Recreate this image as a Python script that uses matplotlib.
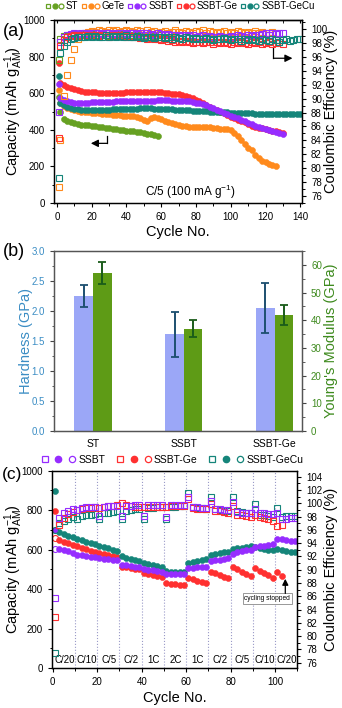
import numpy as np
import matplotlib.pyplot as plt
from matplotlib.lines import Line2D
from matplotlib.legend_handler import HandlerTuple
from matplotlib.ticker import MultipleLocator

plt.rcParams['font.family'] = ['Liberation Sans', 'DejaVu Sans']
plt.rcParams['mathtext.fontset'] = 'custom'
plt.rcParams['mathtext.rm'] = 'Liberation Sans'
plt.rcParams['mathtext.it'] = 'Liberation Sans:italic'
plt.rcParams['font.size'] = 7
plt.rcParams['axes.linewidth'] = 0.9

# cores das amostras
C_ST = '#66a122'
C_GETE = '#ff8a1c'
C_SSBT = '#962cff'
C_GE = '#ff3030'
C_CU = '#15857a'

# ---------------- (a) ciclagem a C/5: ciclo 1 e depois de 2 em 2 ciclos
st_cap = [580, 500, 458, 446, 440, 436, 432, 428, 426, 424, 422,
          420, 418, 415, 412, 408, 405, 402, 400, 398, 396,
          394, 392, 389, 386, 382, 379, 376, 371, 366]
st_ce = [95.5, 98.6, 99.0, 99.2, 99.1, 99.3, 99.2, 99.3, 99.1, 99.2, 99.3,
         99.2, 99.1, 99.3, 99.2, 99.0, 99.2, 99.1, 99.3, 99.2, 99.1,
         99.2, 99.0, 99.1, 99.2, 99.0, 99.1, 99.2, 99.0, 99.1]

gete_cap = [620, 548, 530, 520, 512, 507, 503, 500, 498, 496, 494,
            492, 490, 488, 486, 484, 482, 480, 479, 477, 476,
            475, 474, 470, 464, 455, 450, 462, 470, 465, 458,
            450, 444, 438, 432, 427, 423, 420, 418, 417, 416,
            415, 416, 418, 416, 412, 409, 407, 407, 406, 400,
            385, 365, 342, 320, 303, 288, 265, 245, 232, 222,
            214, 207, 200]
gete_ce = [77.3, 84.0, 90.4, 93.4, 95.6, 97.2, 98.6, 99.2, 99.5, 99.6, 99.7,
           99.6, 99.8, 99.7, 99.6, 99.8, 99.7, 99.9, 99.6, 99.7, 99.8,
           99.7, 99.6, 99.8, 99.7, 99.5, 99.8, 99.6, 99.7, 99.5, 99.6,
           99.7, 99.5, 99.6, 99.8, 99.6, 99.5, 99.7, 99.6, 99.5, 99.7,
           99.6, 99.8, 99.5, 99.7, 99.6, 99.4, 99.6, 99.7, 99.5, 99.6,
           99.5, 99.7, 99.6, 99.4, 99.6, 99.5, 99.7, 99.4, 99.6, 99.5,
           99.4, 99.6, 99.5]

ssbt_cap = [650, 575, 562, 555, 551, 549, 548, 548, 548, 549, 550,
            551, 552, 553, 553, 554, 554, 555, 556, 556, 557,
            557, 558, 558, 559, 559, 560, 560, 560, 561, 561,
            561, 561, 560, 560, 559, 558, 557, 555, 552, 548,
            544, 539, 533, 526, 518, 510, 502, 494, 486, 478,
            470, 462, 454, 446, 438, 430, 423, 416, 409, 403,
            397, 392, 387, 382, 377]
ssbt_ce = [88.1, 98.2, 98.9, 99.2, 99.3, 99.4, 99.3, 99.5, 99.4, 99.3, 99.5,
           99.4, 99.5, 99.3, 99.4, 99.5, 99.3, 99.4, 99.5, 99.4, 99.3,
           99.4, 99.5, 99.3, 99.4, 99.2, 99.4, 99.3, 99.2, 99.4, 99.3,
           99.2, 99.3, 99.1, 99.2, 99.0, 99.1, 99.2, 99.0, 99.1, 98.9,
           99.0, 99.1, 98.9, 99.0, 98.8, 98.9, 99.0, 98.8, 98.9, 99.0,
           98.9, 99.1, 99.0, 98.9, 99.1, 99.0, 99.2, 99.1, 99.3, 99.4,
           99.2, 99.4, 99.3, 99.5, 99.4]

ge_cap = [767, 655, 645, 635, 628, 622, 618, 612, 608, 606, 605,
          604, 603, 602, 602, 601, 602, 603, 602, 603, 604,
          604, 605, 606, 606, 607, 607, 608, 607, 606, 605,
          603, 601, 598, 596, 593, 590, 585, 580, 573, 565,
          555, 545, 535, 525, 516, 508, 499, 490, 481, 472,
          463, 455, 447, 440, 430, 423, 418, 412, 408, 404,
          400, 396, 392, 388, 384]
ge_ce = [84.4, 97.5, 98.4, 98.8, 99.0, 99.1, 99.0, 99.2, 99.1, 99.0, 99.2,
         99.1, 99.0, 99.2, 99.1, 98.9, 99.1, 99.0, 99.2, 99.0, 98.9,
         99.0, 98.8, 98.9, 98.7, 98.8, 98.6, 98.7, 98.5, 98.6, 98.4,
         98.5, 98.3, 98.4, 98.2, 98.3, 98.1, 98.3, 98.2, 98.0, 98.2,
         98.1, 98.0, 98.2, 98.1, 97.9, 98.1, 98.0, 98.2, 98.0, 97.9,
         98.1, 98.0, 98.2, 98.0, 97.9, 98.1, 98.0, 98.1, 97.9, 98.0,
         98.1, 97.9, 98.0, 98.1, 97.9]

cu_cap = [696, 548, 535, 525, 518, 514, 511, 509, 508, 507, 507,
          507, 508, 508, 509, 510, 511, 512, 513, 514, 514,
          515, 516, 516, 517, 517, 517, 517, 516, 515, 514,
          513, 512, 511, 510, 509, 508, 507, 506, 505, 504,
          503, 502, 501, 500, 499, 498, 497, 496, 495, 494,
          493, 492, 491, 491, 490, 490, 489, 489, 488, 488,
          488, 487, 487, 487, 486, 486, 486, 485, 485, 485]
cu_ce = [78.6, 96.5, 97.6, 98.2, 98.5, 98.7, 98.8, 98.9, 98.8, 99.0, 98.9,
         99.0, 98.8, 98.9, 99.1, 98.9, 99.0, 98.8, 99.0, 98.9, 99.1,
         98.9, 98.8, 99.0, 98.9, 98.7, 98.9, 98.8, 98.7, 98.9, 98.8,
         98.7, 98.8, 98.6, 98.8, 98.7, 98.6, 98.8, 98.7, 98.5, 98.7,
         98.6, 98.5, 98.7, 98.6, 98.4, 98.6, 98.5, 98.7, 98.5, 98.4,
         98.6, 98.5, 98.3, 98.5, 98.4, 98.6, 98.4, 98.3, 98.5, 98.4,
         98.3, 98.5, 98.4, 98.2, 98.4, 98.5, 98.3, 98.4, 98.6, 98.5]

# ---------------- (b) nanoindentacao
amostras_b = ['ST', 'SSBT', 'SSBT-Ge']
dureza = [2.25, 1.61, 2.05]
dureza_err = [0.19, 0.37, 0.41]
modulo = [57.0, 37.0, 42.0]
modulo_err = [4.0, 3.2, 3.6]

# ---------------- (c) rate capability: ciclos impares 1, 3, 5, ...
taxas = ['C/20', 'C/10', 'C/5', 'C/2', '1C', '2C', '1C', 'C/2', 'C/5', 'C/10', 'C/20']
limites_taxa = [10, 20, 30, 40, 50, 60, 70, 80, 90, 100]

ssbt_c_cap = [700, 605, 598, 592, 585,
              575, 572, 569, 565, 562,
              557, 554, 551, 548, 545,
              524, 521, 517, 514, 511,
              501, 498, 495, 492, 489,
              478, 476, 475, 474, 474,
              506, 508, 510, 512, 514,
              540, 545, 549, 553, 557,
              580, 586, 591, 596, 600,
              612, 616, 620, 624, 628,
              655, 652, 648, 645, 642]
ssbt_c_ce = [85.7, 97.8, 98.5, 98.9, 99.1,
             99.0, 99.3, 99.4, 99.5, 99.5,
             98.1, 99.5, 99.6, 99.6, 99.6,
             98.1, 99.6, 99.6, 99.7, 99.7,
             98.1, 99.7, 99.7, 99.7, 99.7,
             98.0, 99.7, 99.8, 99.8, 99.8,
             101.0, 99.5, 99.4, 99.3, 99.3,
             100.4, 99.2, 99.1, 99.0, 99.0,
             100.2, 98.7, 98.6, 98.6, 98.5,
             99.1, 98.6, 98.5, 98.4, 98.4,
             98.6, 97.6, 97.7, 97.8, 97.8]

ge_c_cap = [794, 650, 640, 632, 624,
            616, 609, 601, 594, 587,
            582, 578, 574, 569, 565,
            514, 511, 507, 504, 501,
            481, 476, 472, 467, 463,
            432, 428, 425, 423, 422,
            456, 450, 443, 437, 431,
            487, 479, 471, 463, 455,
            512, 500, 488, 476, 465,
            505, 494, 482, 470, 458,
            485, 468]
ge_c_ce = [82.9, 96.8, 97.8, 98.4, 98.7,
           99.0, 99.2, 99.3, 99.3, 99.4,
           99.3, 99.5, 99.6, 99.6, 99.7,
           100.0, 99.8, 99.6, 99.5, 99.5,
           99.4, 99.5, 99.5, 99.5, 99.5,
           99.5, 99.6, 99.6, 99.6, 99.6,
           100.6, 99.3, 99.2, 99.1, 99.1,
           99.9, 98.9, 98.8, 98.7, 98.6,
           99.6, 98.3, 98.2, 98.1, 98.0,
           98.2, 97.9, 97.8, 97.6, 97.4,
           96.6, 96.8]

cu_c_cap = [895, 688, 678, 670, 662,
            655, 648, 641, 635, 629,
            616, 611, 606, 600, 595,
            566, 560, 553, 547, 541,
            530, 525, 520, 515, 511,
            490, 489, 488, 488, 487,
            532, 537, 542, 547, 552,
            574, 578, 582, 586, 590,
            603, 606, 610, 613, 616,
            612, 608, 604, 600, 597,
            605, 600, 595, 590, 586]
cu_c_ce = [77.5, 97.0, 97.4, 97.7, 97.9,
           97.6, 98.1, 98.2, 98.3, 98.4,
           97.6, 98.5, 98.6, 98.7, 98.8,
           97.6, 98.9, 99.0, 99.1, 99.2,
           97.6, 99.3, 99.3, 99.4, 99.4,
           97.6, 99.5, 99.5, 99.6, 99.6,
           101.5, 99.4, 99.3, 99.3, 99.2,
           101.0, 99.1, 99.0, 98.9, 98.9,
           101.0, 98.8, 98.7, 98.6, 98.5,
           99.9, 98.3, 98.2, 98.1, 98.0,
           99.3, 98.0, 98.1, 98.1, 98.1]

# carga do primeiro ciclo (circulos abertos): SSBT, SSBT-Ge, SSBT-GeCu
carga_ciclo1 = [602, 660, 700]


def ciclos_a(vals):
    return np.r_[1, 2 * np.arange(1, len(vals))]


def ciclos_c(vals):
    return 2 * np.arange(len(vals)) + 1


def legenda(cor, ms):
    q = Line2D([], [], marker='s', ls='none', mfc='none', mec=cor, ms=ms, mew=0.9)
    f = Line2D([], [], marker='o', ls='none', mfc=cor, mec=cor, ms=ms)
    o = Line2D([], [], marker='o', ls='none', mfc='none', mec=cor, ms=ms, mew=0.9)
    return (q, f, o)


W, H = 342, 708
fig = plt.figure(figsize=(W / 100, H / 100), dpi=100)
FS_LAB = 10.5

# ======================= (a)
ax_a = fig.add_axes([54 / W, 1 - 203 / H, 248 / W, 183 / H])
ax_a2 = ax_a.twinx()

series_a = [(st_cap, st_ce, C_ST), (gete_cap, gete_ce, C_GETE),
            (ge_cap, ge_ce, C_GE), (cu_cap, cu_ce, C_CU),
            (ssbt_cap, ssbt_ce, C_SSBT)]
for cap, ce, cor in series_a:
    ax_a.plot(ciclos_a(cap), cap, 'o', color=cor, ms=4.3, mec=cor, mew=0.4)
for cap, ce, cor in [series_a[0], series_a[1], series_a[4], series_a[2], series_a[3]]:
    ax_a2.plot(ciclos_a(ce), ce, 's', mfc='none', mec=cor, ms=3.8, mew=0.8)

ax_a.set_xlim(-1.7, 141)
ax_a.set_ylim(0, 1000)
ax_a2.set_ylim(75, 101.3)
ax_a.xaxis.set_major_locator(MultipleLocator(20))
ax_a.xaxis.set_minor_locator(MultipleLocator(10))
ax_a.yaxis.set_major_locator(MultipleLocator(200))
ax_a.yaxis.set_minor_locator(MultipleLocator(100))
ax_a2.yaxis.set_major_locator(MultipleLocator(2))
ax_a2.yaxis.set_minor_locator(MultipleLocator(1))
for ax in (ax_a, ax_a2):
    ax.tick_params(which='major', direction='out', length=3, width=0.8, labelsize=7)
    ax.tick_params(which='minor', direction='out', length=1.8, width=0.7)
topo = ax_a.secondary_xaxis('top')
topo.xaxis.set_major_locator(MultipleLocator(20))
topo.xaxis.set_minor_locator(MultipleLocator(10))
topo.tick_params(which='both', direction='in', labeltop=False, length=2.5)

ax_a.set_xlabel('Cycle No.', fontsize=FS_LAB)
ax_a.xaxis.set_label_coords(0.5, -0.12)
ax_a.set_ylabel(r'Capacity (mAh g$_{\mathrm{AM}}^{-1}$)', fontsize=FS_LAB)
ax_a.yaxis.set_label_coords(-0.115, 0.5)
ax_a2.set_ylabel('Coulombic Efficiency (%)', fontsize=FS_LAB)
ax_a2.yaxis.set_label_coords(1.09, 0.5)

ax_a.text(76.6, 62, r'C/5 (100 mA g$^{-1}$)', fontsize=8.5, ha='center', va='center')
# setas indicando o eixo de cada grandeza
ax_a.plot([124.6, 124.6], [845, 791], color='k', lw=0.9)
ax_a.annotate('', xy=(135.5, 791), xytext=(124.6, 791),
              arrowprops=dict(arrowstyle='-|>', color='k', lw=0.9, mutation_scale=11,
                              shrinkA=0, shrinkB=0))
ax_a.plot([29, 29], [366, 326], color='k', lw=0.9)
ax_a.annotate('', xy=(19.5, 326), xytext=(29, 326),
              arrowprops=dict(arrowstyle='-|>', color='k', lw=0.9, mutation_scale=11,
                              shrinkA=0, shrinkB=0))
fig.text(14 / W, 1 - 32 / H, '(a)', fontsize=13, ha='center', va='center')

nomes_a = ['ST', 'GeTe', 'SSBT', 'SSBT-Ge', 'SSBT-GeCu']
cores_a = [C_ST, C_GETE, C_SSBT, C_GE, C_CU]
fig.legend(handles=[legenda(c, 3.5) for c in cores_a], labels=nomes_a,
           handler_map={tuple: HandlerTuple(ndivide=None, pad=0.1)},
           loc='center', bbox_to_anchor=(180 / W, 1 - 6 / H), ncol=5, frameon=False,
           fontsize=7, handlelength=1.9, handletextpad=0.2, columnspacing=0.3,
           borderpad=0, borderaxespad=0)

# ======================= (b)
ax_b = fig.add_axes([54 / W, 1 - 431 / H, 248 / W, 180 / H])
ax_b2 = ax_b.twinx()
xb = np.arange(len(amostras_b))
AZUL_TXT = '#3b8dc4'
VERDE_TXT = '#3e8a1e'
ax_b.bar(xb - 0.103, dureza, 0.205, color='#9ba7f7', zorder=2,
         yerr=dureza_err, error_kw=dict(ecolor='#1d4f70', elinewidth=1.4,
                                        capsize=3.2, capthick=1.3, zorder=3))
ax_b2.bar(xb + 0.102, modulo, 0.205, color='#5e9b16', zorder=2,
          yerr=modulo_err, error_kw=dict(ecolor='#1a5c1a', elinewidth=1.4,
                                         capsize=3.2, capthick=1.3, zorder=3))
ax_b.set_xlim(-0.43, 2.30)
ax_b.set_ylim(0, 3.0)
ax_b2.set_ylim(0, 65)
ax_b.set_xticks(xb)
ax_b.set_xticklabels(amostras_b, fontsize=7.5)
ax_b.tick_params(axis='x', length=0, pad=6)
ax_b.yaxis.set_major_locator(MultipleLocator(0.5))
ax_b.yaxis.set_minor_locator(MultipleLocator(0.25))
ax_b2.yaxis.set_major_locator(MultipleLocator(10))
ax_b2.yaxis.set_minor_locator(MultipleLocator(5))
ax_b.tick_params(axis='y', which='major', colors='#444444', labelcolor=AZUL_TXT,
                 length=3, labelsize=7)
ax_b.tick_params(axis='y', which='minor', colors='#444444', length=1.8)
ax_b2.tick_params(axis='y', which='major', colors='#444444', labelcolor=VERDE_TXT,
                  length=3, labelsize=7)
ax_b2.tick_params(axis='y', which='minor', colors='#444444', length=1.8)
ax_b.set_ylabel('Hardness (GPa)', fontsize=FS_LAB, color=AZUL_TXT)
ax_b.yaxis.set_label_coords(-0.085, 0.5)
ax_b2.set_ylabel("Young's Modulus (GPa)", fontsize=FS_LAB, color=VERDE_TXT)
ax_b2.yaxis.set_label_coords(1.09, 0.5)
for ax in (ax_b, ax_b2):
    for s in ax.spines.values():
        s.set_color('#555555')
fig.text(14 / W, 1 - 252 / H, '(b)', fontsize=13, ha='center', va='center')

# ======================= (c)
ax_c = fig.add_axes([51.7 / W, 1 - 668 / H, 245.6 / W, 197.3 / H])
ax_c2 = ax_c.twinx()
for v in limites_taxa:
    ax_c.axvline(v, color='#9a9ac8', ls=':', lw=0.8, zorder=0)

series_c = [(ge_c_cap, ge_c_ce, C_GE), (cu_c_cap, cu_c_ce, C_CU),
            (ssbt_c_cap, ssbt_c_ce, C_SSBT)]
for cap, ce, cor in series_c:
    ax_c.plot(ciclos_c(cap), cap, 'o', color=cor, ms=4.3, mec=cor, mew=0.4)
for chg, cor in zip(carga_ciclo1, [C_SSBT, C_GE, C_CU]):
    ax_c.plot([1], [chg], 'o', mfc='none', mec=cor, ms=4.3, mew=0.8)
for cap, ce, cor in [series_c[1], series_c[0], series_c[2]]:
    ax_c2.plot(ciclos_c(ce), ce, 's', mfc='none', mec=cor, ms=4.0, mew=0.8)

ax_c.set_xlim(-0.5, 110)
ax_c.set_ylim(0, 1000)
ax_c2.set_ylim(75.2, 104.9)
ax_c.xaxis.set_major_locator(MultipleLocator(20))
ax_c.xaxis.set_minor_locator(MultipleLocator(10))
ax_c.yaxis.set_major_locator(MultipleLocator(200))
ax_c.yaxis.set_minor_locator(MultipleLocator(100))
ax_c2.yaxis.set_major_locator(MultipleLocator(2))
ax_c2.yaxis.set_minor_locator(MultipleLocator(1))
for ax in (ax_c, ax_c2):
    ax.tick_params(which='major', direction='out', length=3, width=0.8, labelsize=7)
    ax.tick_params(which='minor', direction='out', length=1.8, width=0.7)

for i, t in enumerate(taxas):
    ax_c.text(5.3 + 10 * i, 41, t, fontsize=7, ha='center', va='center')

ax_c.text(96.5, 352, 'cycling stopped', fontsize=4.8, ha='center', va='center',
          bbox=dict(boxstyle='square,pad=0.25', fc='white', ec='#888888', lw=0.6))
ax_c.annotate('', xy=(104.6, 452), xytext=(104.6, 378),
              arrowprops=dict(arrowstyle='-|>', color='k', lw=0.9, mutation_scale=9,
                              shrinkA=0, shrinkB=0))

ax_c.set_xlabel('Cycle No.', fontsize=FS_LAB)
ax_c.xaxis.set_label_coords(0.5, -0.115)
ax_c.set_ylabel(r'Capacity (mAh g$_{\mathrm{AM}}^{-1}$)', fontsize=FS_LAB)
ax_c.yaxis.set_label_coords(-0.108, 0.5)
ax_c2.set_ylabel('Coulombic Efficiency (%)', fontsize=FS_LAB)
ax_c2.yaxis.set_label_coords(1.11, 0.5)
fig.text(12 / W, 1 - 475 / H, '(c)', fontsize=12.5, ha='center', va='center')

nomes_c = ['SSBT', 'SSBT-Ge', 'SSBT-GeCu']
cores_c = [C_SSBT, C_GE, C_CU]
fig.legend(handles=[legenda(c, 4.5) for c in cores_c], labels=nomes_c,
           handler_map={tuple: HandlerTuple(ndivide=None, pad=0.6)},
           loc='center', bbox_to_anchor=(172 / W, 1 - 460 / H), ncol=3, frameon=False,
           fontsize=7.5, handlelength=3.4, handletextpad=0.25, columnspacing=1.0,
           borderpad=0, borderaxespad=0)

fig.savefig('out.png', dpi=100, facecolor='white')
